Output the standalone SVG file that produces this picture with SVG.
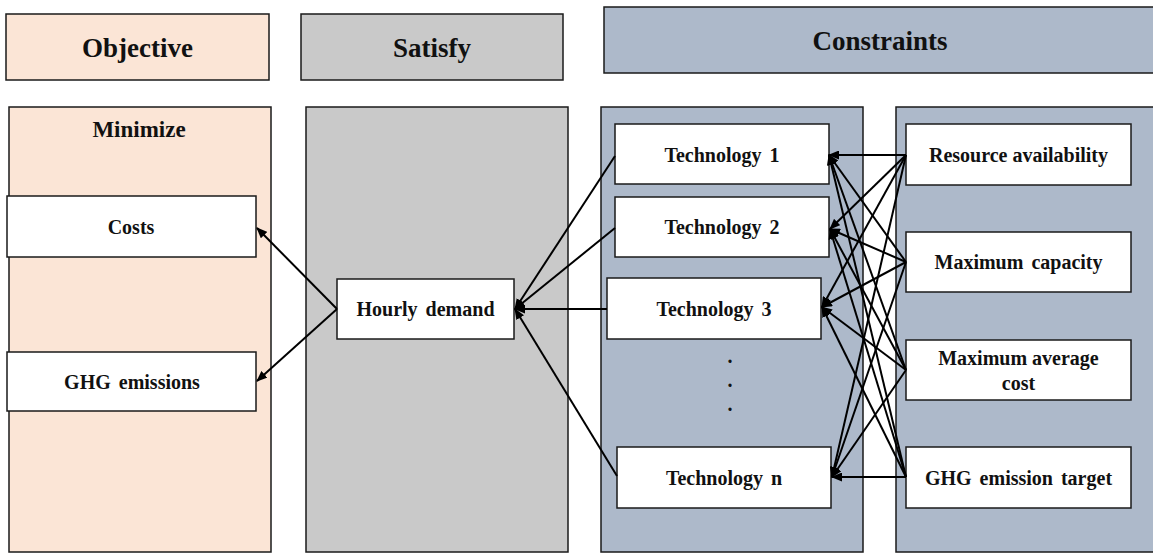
<svg xmlns="http://www.w3.org/2000/svg" width="1153" height="553" viewBox="0 0 1153 553">
  <style>
    .hdr { font-family: "Liberation Serif", "Times New Roman", serif; font-weight: bold; font-size: 27px; fill: #111; text-anchor: middle; }
    .lbl { font-family: "Liberation Serif", "Times New Roman", serif; font-weight: bold; font-size: 20px; fill: #111; text-anchor: middle; word-spacing: 3px; }
    .sub { font-family: "Liberation Serif", "Times New Roman", serif; font-weight: bold; font-size: 23px; fill: #111; text-anchor: middle; }
    .obj { fill: #FBE5D6; stroke: #1a1a1a; stroke-width: 1.5; }
    .sat { fill: #C9C9C9; stroke: #1a1a1a; stroke-width: 1.5; }
    .con { fill: #ADB9CA; stroke: #1a1a1a; stroke-width: 1.5; }
    .box { fill: #FFFFFF; stroke: #1a1a1a; stroke-width: 1.5; }
    .arrow { stroke: #000; stroke-width: 2; fill: none; marker-end: url(#head); }
  </style>
  <defs>
    <marker id="head" markerUnits="userSpaceOnUse" markerWidth="11" markerHeight="9" refX="10" refY="4.5" orient="auto">
      <path d="M0,0 L11,4.5 L0,9 z" fill="#000"/>
    </marker>
  </defs>

  <rect width="1153" height="553" fill="#FFFFFF"/>

  <!-- column headers -->
  <g id="header-objective">
    <rect class="obj" x="6" y="14" width="263" height="66"/>
    <text class="hdr" x="137.5" y="57">Objective</text>
  </g>
  <g id="header-satisfy">
    <rect class="sat" x="301" y="14" width="262" height="66"/>
    <text class="hdr" x="432" y="57">Satisfy</text>
  </g>
  <g id="header-constraints">
    <rect class="con" x="604" y="7" width="560" height="66"/>
    <text class="hdr" x="880" y="50">Constraints</text>
  </g>

  <!-- column panels -->
  <g id="panel-objective">
    <rect class="obj" x="9" y="107" width="262" height="445"/>
    <text class="sub" x="139" y="137">Minimize</text>
  </g>
  <g id="panel-satisfy">
    <rect class="sat" x="306" y="107" width="262" height="445"/>
  </g>
  <g id="panel-technologies">
    <rect class="con" x="601" y="107" width="262" height="445"/>
    <text class="lbl" x="730" y="363">.</text>
    <text class="lbl" x="730" y="387">.</text>
    <text class="lbl" x="730" y="411">.</text>
  </g>
  <g id="panel-constraints">
    <rect class="con" x="896" y="107" width="270" height="445"/>
  </g>

  <!-- objective nodes -->
  <g id="costs">
    <rect class="box" x="7" y="196" width="249" height="61"/>
    <text class="lbl" x="131" y="234">Costs</text>
  </g>
  <g id="ghg-emissions">
    <rect class="box" x="7" y="352" width="249" height="59"/>
    <text class="lbl" x="132" y="389">GHG emissions</text>
  </g>

  <!-- demand node -->
  <g id="hourly-demand">
    <rect class="box" x="337" y="279" width="177" height="60"/>
    <text class="lbl" x="425.5" y="316">Hourly demand</text>
  </g>

  <!-- technology nodes -->
  <g id="technology-1">
    <rect class="box" x="615" y="124" width="214" height="60"/>
    <text class="lbl" x="722" y="162">Technology 1</text>
  </g>
  <g id="technology-2">
    <rect class="box" x="615" y="197" width="214" height="60"/>
    <text class="lbl" x="722" y="234">Technology 2</text>
  </g>
  <g id="technology-3">
    <rect class="box" x="607" y="278" width="214" height="61"/>
    <text class="lbl" x="714" y="316">Technology 3</text>
  </g>
  <g id="technology-n">
    <rect class="box" x="617" y="447" width="214" height="61"/>
    <text class="lbl" x="724" y="485">Technology n</text>
  </g>

  <!-- constraint nodes -->
  <g id="resource-availability">
    <rect class="box" x="906" y="124" width="225" height="61"/>
    <text class="lbl" x="1018.5" y="162" style="word-spacing:0">Resource availability</text>
  </g>
  <g id="maximum-capacity">
    <rect class="box" x="906" y="232" width="225" height="60"/>
    <text class="lbl" x="1018.5" y="269">Maximum capacity</text>
  </g>
  <g id="maximum-average-cost">
    <rect class="box" x="906" y="340" width="225" height="60"/>
    <text class="lbl" x="1018.5" y="365" style="word-spacing:0">Maximum average</text>
    <text class="lbl" x="1018.5" y="390">cost</text>
  </g>
  <g id="ghg-emission-target">
    <rect class="box" x="906" y="447" width="225" height="61"/>
    <text class="lbl" x="1018.5" y="485">GHG emission target</text>
  </g>

  <!-- connectors -->
  <g id="connectors">
    <!-- demand to objectives -->
    <line class="arrow" x1="337" y1="309" x2="257" y2="228"/>
    <line class="arrow" x1="337" y1="309" x2="257" y2="381"/>
    <!-- technologies to demand -->
    <line class="arrow" x1="615" y1="156" x2="515" y2="309"/>
    <line class="arrow" x1="615" y1="228" x2="515" y2="309"/>
    <line class="arrow" x1="607" y1="309" x2="515" y2="309"/>
    <line class="arrow" x1="617" y1="476" x2="515" y2="309"/>
    <!-- resource availability to technologies -->
    <line class="arrow" x1="906" y1="155" x2="829" y2="155"/>
    <line class="arrow" x1="906" y1="155" x2="830" y2="229"/>
    <line class="arrow" x1="906" y1="155" x2="822" y2="307"/>
    <line class="arrow" x1="906" y1="155" x2="832" y2="477"/>
    <!-- maximum capacity to technologies -->
    <line class="arrow" x1="906" y1="262" x2="829" y2="155"/>
    <line class="arrow" x1="906" y1="262" x2="830" y2="229"/>
    <line class="arrow" x1="906" y1="262" x2="822" y2="307"/>
    <line class="arrow" x1="906" y1="262" x2="832" y2="477"/>
    <!-- maximum average cost to technologies -->
    <line class="arrow" x1="906" y1="370" x2="829" y2="155"/>
    <line class="arrow" x1="906" y1="370" x2="830" y2="229"/>
    <line class="arrow" x1="906" y1="370" x2="822" y2="307"/>
    <line class="arrow" x1="906" y1="370" x2="832" y2="477"/>
    <!-- emission target to technologies -->
    <line class="arrow" x1="906" y1="477" x2="829" y2="155"/>
    <line class="arrow" x1="906" y1="477" x2="830" y2="229"/>
    <line class="arrow" x1="906" y1="477" x2="822" y2="307"/>
    <line class="arrow" x1="906" y1="477" x2="832" y2="477"/>
  </g>
</svg>
